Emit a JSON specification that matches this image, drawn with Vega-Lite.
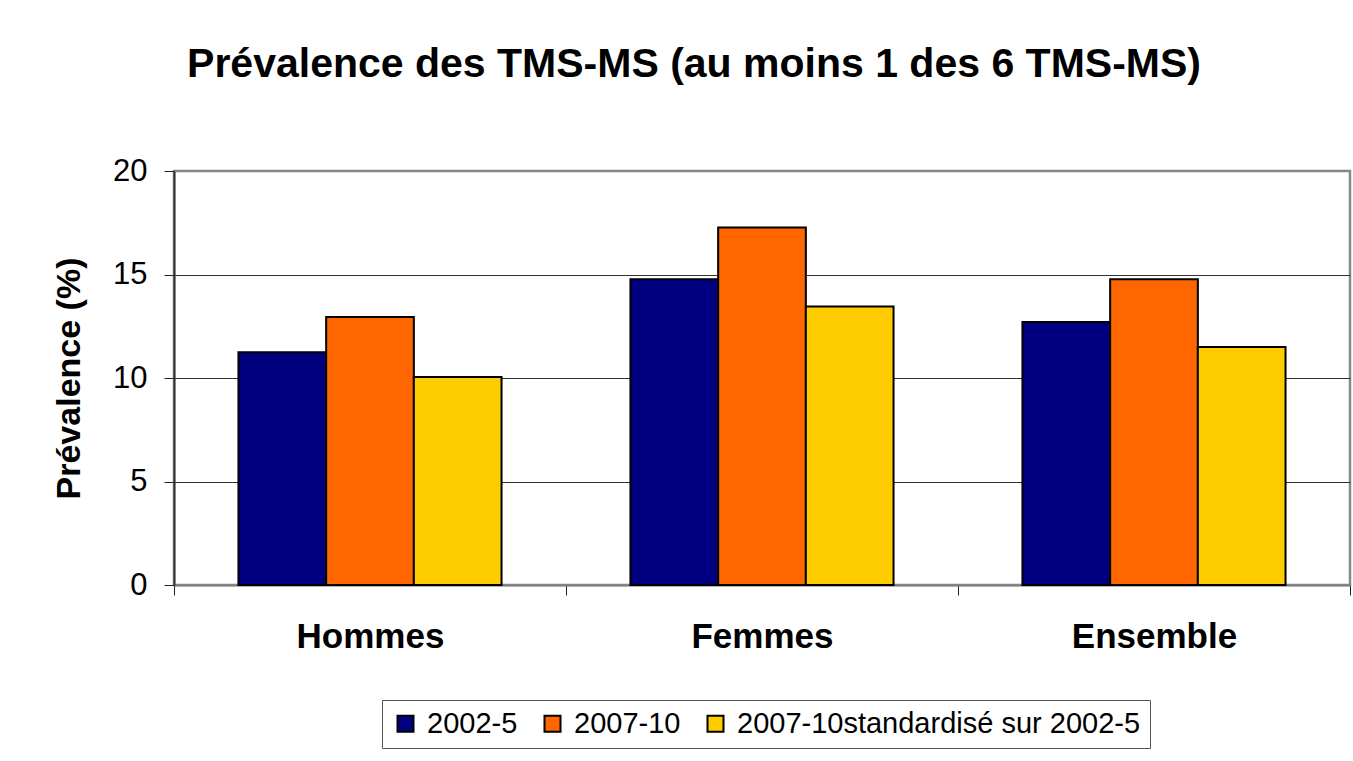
{
  "$schema": "https://vega.github.io/schema/vega-lite/v6.json",
  "autosize": "none",
  "width": 1176,
  "height": 414,
  "padding": {"left": 174, "top": 171, "right": 3, "bottom": 176},
  "background": "white",
  "title": {
    "text": "Prévalence des TMS-MS (au moins 1 des 6 TMS-MS)",
    "font": "Liberation Sans",
    "fontSize": 41,
    "fontWeight": "bold",
    "color": "black",
    "anchor": "middle",
    "frame": "group",
    "dx": -68,
    "offset": 69
  },
  "data": {
    "values": [
      {"groupe": "Hommes", "periode": "2002-5", "prevalence": 11.25},
      {"groupe": "Hommes", "periode": "2007-10", "prevalence": 12.95},
      {"groupe": "Hommes", "periode": "2007-10standardisé sur 2002-5", "prevalence": 10.05},
      {"groupe": "Femmes", "periode": "2002-5", "prevalence": 14.77},
      {"groupe": "Femmes", "periode": "2007-10", "prevalence": 17.27},
      {"groupe": "Femmes", "periode": "2007-10standardisé sur 2002-5", "prevalence": 13.45},
      {"groupe": "Ensemble", "periode": "2002-5", "prevalence": 12.7},
      {"groupe": "Ensemble", "periode": "2007-10", "prevalence": 14.77},
      {"groupe": "Ensemble", "periode": "2007-10standardisé sur 2002-5", "prevalence": 11.5}
    ]
  },
  "mark": {"type": "bar", "stroke": "black", "strokeWidth": 2, "strokeJoin": "miter"},
  "encoding": {
    "x": {
      "field": "groupe",
      "type": "nominal",
      "sort": ["Hommes", "Femmes", "Ensemble"],
      "scale": {"paddingInner": 0, "paddingOuter": 0},
      "axis": {
        "title": null,
        "labelAngle": 0,
        "labelFont": "Liberation Sans",
        "labelFontSize": 35,
        "labelFontWeight": "bold",
        "labelColor": "black",
        "labelPadding": 24,
        "tickBand": "extent",
        "tickSize": 10,
        "tickColor": "#222",
        "tickWidth": 1,
        "domainColor": "#808080",
        "domainWidth": 2,
        "grid": false
      }
    },
    "xOffset": {
      "field": "periode",
      "type": "nominal",
      "sort": ["2002-5", "2007-10", "2007-10standardisé sur 2002-5"],
      "scale": {"paddingInner": 0, "paddingOuter": 0.735}
    },
    "y": {
      "field": "prevalence",
      "type": "quantitative",
      "scale": {"domain": [0, 20], "nice": false},
      "axis": {
        "title": "Prévalence (%)",
        "titleFont": "Liberation Sans",
        "titleFontSize": 34,
        "titleFontWeight": "bold",
        "titleColor": "black",
        "titlePadding": 26,
        "values": [0, 5, 10, 15, 20],
        "labelFont": "Liberation Sans",
        "labelFontSize": 31,
        "labelColor": "black",
        "labelPadding": 17,
        "tickSize": 10,
        "tickColor": "#222",
        "tickWidth": 1,
        "domainColor": "#333",
        "domainWidth": 2,
        "grid": true,
        "gridColor": {"condition": {"test": "datum.value == 0 || datum.value == 20", "value": "transparent"}, "value": "#333"},
        "gridWidth": 1
      }
    },
    "color": {
      "field": "periode",
      "type": "nominal",
      "sort": ["2002-5", "2007-10", "2007-10standardisé sur 2002-5"],
      "scale": {"range": ["#000080", "#FF6600", "#FFCC00"]},
      "legend": {
        "title": null,
        "orient": "none",
        "legendX": 208,
        "legendY": 529,
        "direction": "horizontal",
        "symbolType": "square",
        "symbolSize": 256,
        "symbolStrokeColor": "black",
        "symbolStrokeWidth": 2,
        "symbolOpacity": 1,
        "labelFont": "Liberation Sans",
        "labelFontSize": 29,
        "labelColor": "black",
        "labelOffset": 7,
        "labelLimit": 1000,
        "columnPadding": 20,
        "padding": 9,
        "strokeColor": "#555",
        "fillColor": "white"
      }
    }
  },
  "config": {
    "view": {"stroke": "#888", "strokeWidth": 2.5},
    "axis": {"labelFlush": false}
  }
}
